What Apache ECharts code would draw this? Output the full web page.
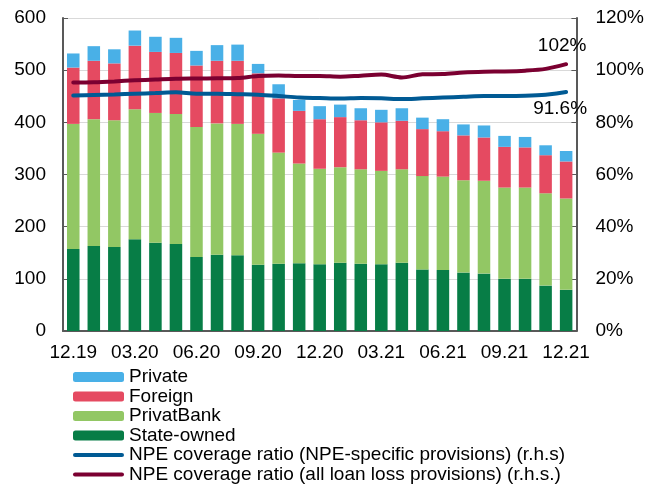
<!DOCTYPE html>
<html>
<head>
<meta charset="utf-8">
<script src="https://cdn.jsdelivr.net/npm/echarts@6/dist/echarts.min.js"></script>
<style>
  html, body { margin: 0; padding: 0; background: #fff; }
  #chart { width: 647px; height: 484px; }
</style>
</head>
<body>
<div id="chart"></div>
<script>
  var months = ['12.19', '01.20', '02.20', '03.20', '04.20', '05.20', '06.20', '07.20', '08.20', '09.20',
    '10.20', '11.20', '12.20', '01.21', '02.21', '03.21', '04.21', '05.21', '06.21', '07.21',
    '08.21', '09.21', '10.21', '11.21', '12.21'];

  // UAH bn, stacked
  var stateOwned = [157, 163, 161, 176, 169, 167, 142, 146, 145, 127, 129, 130, 128, 131, 129, 128, 131, 118, 117, 112, 110, 100, 100, 87, 79];
  var privatBank = [240, 243, 243, 249, 249, 249, 249, 252, 252, 251, 213, 191, 183, 183, 181, 179, 179, 179, 179, 177, 178, 175, 175, 177, 175];
  var foreign = [108, 112, 109, 122, 117, 117, 118, 120, 121, 116, 104, 101, 95, 96, 94, 93, 93, 90, 87, 86, 83, 78, 77, 73, 71];
  var privateBanks = [27, 28, 27, 29, 29, 29, 28, 30, 31, 18, 27, 21, 25, 24, 23, 24, 24, 22, 23, 21, 23, 21, 20, 19, 20];

  // %, r.h.s.
  var coverSpecific = [90.3, 90.5, 90.7, 91.0, 91.2, 91.5, 91.0, 91.0, 90.8, 90.6, 90.1, 89.5, 89.3, 89.1, 89.3, 89.2, 88.9, 89.2, 89.5, 89.8, 90.1, 90.1, 90.2, 90.6, 91.6];
  var coverAll = [95.3, 95.4, 95.7, 96.1, 96.4, 96.7, 96.8, 96.9, 97.0, 97.8, 98.0, 97.8, 97.8, 97.5, 97.9, 98.3, 97.2, 98.4, 98.5, 99.1, 99.4, 99.5, 99.8, 100.5, 102.3];

  var font = 'Liberation Sans, Arial, sans-serif';
  var nameSpecific = 'NPE coverage ratio (NPE-specific provisions) (r.h.s)';
  var nameAll = 'NPE coverage ratio (all loan loss provisions) (r.h.s.)';
  var lineIcon = 'path://M2,0 L48,0 A2,2 0 0 1 48,4 L2,4 A2,2 0 0 1 2,0 Z';

  // only the last point carries a text label
  function lastLabel(arr, text, pos, offset) {
    return arr.map(function (v, i) {
      if (i !== arr.length - 1) return v;
      return {
        value: v,
        label: {
          show: true, position: pos, offset: offset, formatter: text,
          color: '#000', fontFamily: font, fontSize: 19
        }
      };
    });
  }

  var legendText = { fontSize: 19, color: '#000', fontFamily: font, lineHeight: 19 };

  function legendBlock(top, items) {
    return {
      orient: 'vertical',
      left: 73, top: top, height: 140, padding: 0,
      itemWidth: 51, itemHeight: 10, itemGap: 0.5,
      textStyle: legendText,
      data: items
    };
  }

  var chart = echarts.init(document.getElementById('chart'));
  var option = {
    animation: false,
    textStyle: { fontFamily: font },
    grid: { left: 63, right: 69, top: 18, bottom: 153 },
    legend: [
      legendBlock(367.5, ['Private', 'Foreign', 'PrivatBank', 'State-owned']),
      legendBlock(445.5, [{ name: nameSpecific, icon: lineIcon }]),
      legendBlock(465, [{ name: nameAll, icon: lineIcon }])
    ],
    xAxis: {
      type: 'category',
      data: months,
      axisLine: { lineStyle: { color: '#595959', width: 2 } },
      axisTick: { inside: true, length: 5, interval: 0, lineStyle: { color: '#595959' } },
      axisLabel: { interval: 2, color: '#000', fontSize: 19, margin: 12 }
    },
    yAxis: [{
      type: 'value', min: 0, max: 600, interval: 100,
      axisLine: { show: true, lineStyle: { color: '#595959', width: 2 } },
      axisTick: { show: true, inside: true, length: 5, lineStyle: { color: '#595959' } },
      axisLabel: { color: '#000', fontSize: 19, margin: 17 },
      splitLine: { lineStyle: { color: '#d9d9d9', width: 1 } }
    }, {
      type: 'value', min: 0, max: 120, interval: 20,
      axisLine: { show: true, lineStyle: { color: '#595959', width: 2 } },
      axisTick: { show: true, inside: true, length: 5, lineStyle: { color: '#595959' } },
      axisLabel: { color: '#000', fontSize: 19, margin: 19, formatter: '{value}%' },
      splitLine: { show: false }
    }],
    series: [
      { name: 'State-owned', type: 'bar', stack: 'npe', data: stateOwned, barWidth: '61%', itemStyle: { color: '#077d46' } },
      { name: 'PrivatBank', type: 'bar', stack: 'npe', data: privatBank, itemStyle: { color: '#92c764' } },
      { name: 'Foreign', type: 'bar', stack: 'npe', data: foreign, itemStyle: { color: '#e54a61' } },
      { name: 'Private', type: 'bar', stack: 'npe', data: privateBanks, itemStyle: { color: '#49b0e7' } },
      {
        name: nameSpecific, type: 'line', yAxisIndex: 1,
        data: lastLabel(coverSpecific, '91.6%', 'bottom', [-6, 2]),
        smooth: 0.3, symbol: 'circle', symbolSize: 0, showSymbol: true, z: 5,
        lineStyle: { color: '#005a94', width: 4, cap: 'round' }, itemStyle: { color: '#005a94' }
      },
      {
        name: nameAll, type: 'line', yAxisIndex: 1,
        data: lastLabel(coverAll, '102%', 'top', [-4, -4]),
        smooth: 0.3, symbol: 'circle', symbolSize: 0, showSymbol: true, z: 5,
        lineStyle: { color: '#7b0031', width: 4, cap: 'round' }, itemStyle: { color: '#7b0031' }
      }
    ]
  };
  chart.setOption(option);
</script>
</body>
</html>
